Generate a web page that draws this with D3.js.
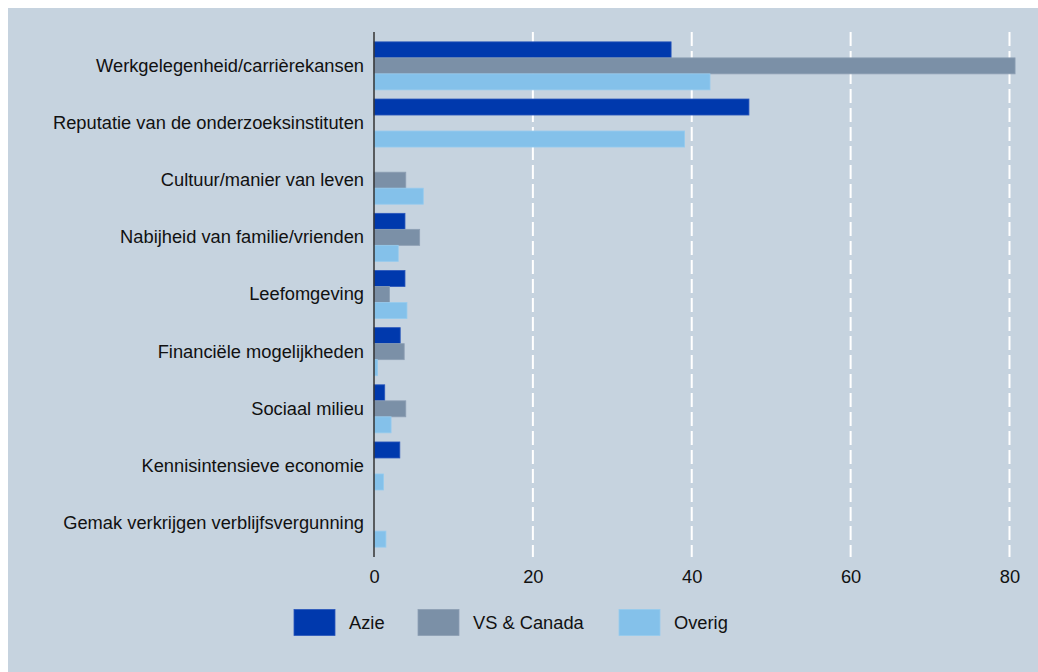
<!DOCTYPE html>
<html>
<head>
<meta charset="utf-8">
<script src="https://cdn.jsdelivr.net/npm/d3@7"></script>
<style>
  html, body { margin: 0; padding: 0; background: #ffffff; }
  svg { display: block; }
  text { font-family: "Liberation Sans", Arial, sans-serif; fill: #111; }
</style>
</head>
<body>
<svg id="chart" width="1038" height="672"></svg>
<script>
const categories = [
  "Werkgelegenheid/carrièrekansen",
  "Reputatie van de onderzoeksinstituten",
  "Cultuur/manier van leven",
  "Nabijheid van familie/vrienden",
  "Leefomgeving",
  "Financiële mogelijkheden",
  "Sociaal milieu",
  "Kennisintensieve economie",
  "Gemak verkrijgen verblijfsvergunning"
];
const seriesNames = ["Azie", "VS & Canada", "Overig"];
const azie    = [37.4, 47.2, 0,   3.9,  3.9,  3.3,  1.35, 3.25, 0];
const vsCanada= [80.7, 0,    4.0, 5.75, 1.95, 3.8,  4.0,  0,    0];
const overig  = [42.3, 39.1, 6.2, 3.05, 4.15, 0.45, 2.15, 1.2,  1.5];
const xTicks = [0, 20, 40, 60, 80];
const colors = ["#0039ad", "#7b90a7", "#84c1ea"];
const strokes = ["#2a56bb", "#8d9fb4", "#96cbee"];

const values = [azie, vsCanada, overig];
const svg = d3.select("#chart");
const FS = 18.3;

svg.append("rect").attr("x", 8).attr("y", 8).attr("width", 1030).attr("height", 664)
  .attr("fill", "#c6d3df");

const x = d3.scaleLinear().domain([0, 80]).range([374, 1009.5]);
const y = d3.scaleBand().domain(categories).range([32, 557]).paddingInner(0.16).paddingOuter(0.1725);
const ySub = d3.scaleBand().domain(seriesNames).range([0, y.bandwidth()]);

// gridlines
svg.append("g").selectAll("line").data(xTicks.filter(d => d > 0)).join("line")
  .attr("x1", d => x(d)).attr("x2", d => x(d))
  .attr("y1", 32).attr("y2", 557)
  .attr("stroke", "#ffffff").attr("stroke-width", 2)
  .attr("stroke-dasharray", "14,5");

// bars
const groups = svg.append("g").selectAll("g").data(categories).join("g")
  .attr("transform", d => `translate(0,${y(d)})`);
groups.each(function(cat, i) {
  d3.select(this).selectAll("rect").data(seriesNames.map((s, k) => ({s, k, v: values[k][i]})).filter(d => d.v > 0))
    .join("rect")
    .attr("x", x(0))
    .attr("y", d => ySub(d.s))
    .attr("width", d => x(d.v) - x(0))
    .attr("height", ySub.bandwidth())
    .attr("fill", d => colors[d.k])
    .attr("stroke", d => strokes[d.k])
    .attr("stroke-width", 0.8);
});

// y axis line
svg.append("line").attr("x1", x(0)).attr("x2", x(0)).attr("y1", 32).attr("y2", 557)
  .attr("stroke", "#333").attr("stroke-width", 1.5);

// category labels
const yAxis = d3.axisLeft(y).tickSize(0).tickPadding(10);
const yg = svg.append("g").attr("transform", `translate(${x(0)},0)`).call(yAxis);
yg.select(".domain").remove();
yg.selectAll("text").attr("font-size", FS).attr("fill", "#111")
  .style("font-family", '"Liberation Sans", Arial, sans-serif');

// x axis labels
const xAxis = d3.axisBottom(x).tickValues(xTicks).tickSize(0).tickPadding(0);
const xg = svg.append("g").attr("transform", `translate(0,570)`).call(xAxis);
xg.select(".domain").remove();
xg.selectAll("text").attr("font-size", FS).attr("fill", "#111")
  .style("font-family", '"Liberation Sans", Arial, sans-serif');

// legend
const legendX = [294, 418, 619];
const lg = svg.append("g").selectAll("g").data(seriesNames).join("g")
  .attr("transform", (d, i) => `translate(${legendX[i]},609.5)`);
lg.append("rect").attr("width", 41).attr("height", 26)
  .attr("fill", (d, i) => colors[i]).attr("stroke", (d, i) => strokes[i]).attr("stroke-width", 0.8);
lg.append("text").attr("x", 55).attr("y", 13).attr("dy", "0.35em")
  .attr("font-size", FS).text(d => d);
</script>
</body>
</html>
